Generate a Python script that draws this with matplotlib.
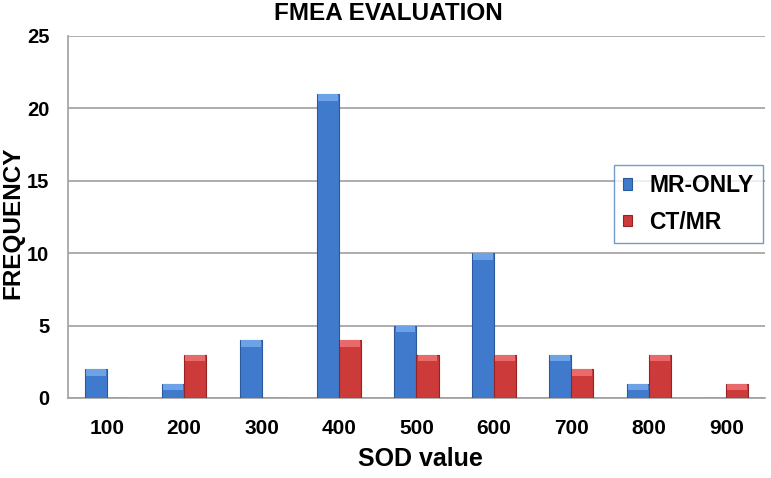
import matplotlib
matplotlib.use("Agg")
import matplotlib.pyplot as plt
import numpy as np

plt.rcParams["font.family"] = ["Liberation Sans", "DejaVu Sans"]
plt.rcParams["font.weight"] = "bold"

# data
sod_values = ["100", "200", "300", "400", "500", "600", "700", "800", "900"]
mr_only = [2, 1, 4, 21, 5, 10, 3, 1, 0]
ct_mr = [0, 3, 0, 4, 3, 3, 2, 3, 1]

BLUE = "#3f7acc"
BLUE_EDGE = "#2a5a9c"
BLUE_TOP = "#6ea2e6"
RED = "#cc3a3a"
RED_EDGE = "#962424"
RED_TOP = "#e86a6a"

fig = plt.figure(figsize=(7.71, 4.78), dpi=100)
ax = fig.add_axes([0.0882, 0.1674, 0.9040, 0.7573])

x = np.arange(len(sod_values))
w = 0.285


def draw_series(offset, vals, col, edge, top, label):
    vals = np.asarray(vals, dtype=float)
    ax.bar(x + offset, vals, w, color=col, edgecolor=edge, linewidth=0.8,
           label=label, zorder=3)
    # light bevel on the top of each bar
    cap = np.where(vals > 0, 0.45, 0)
    ax.bar(x + offset, cap, w * 0.9, bottom=vals - cap - 0.02, color=top,
           edgecolor="none", zorder=4)


draw_series(-w / 2, mr_only, BLUE, BLUE_EDGE, BLUE_TOP, "MR-ONLY")
draw_series(w / 2, ct_mr, RED, RED_EDGE, RED_TOP, "CT/MR")

ax.set_xlim(-0.5, len(sod_values) - 0.5)
ax.set_ylim(0, 25)
ax.set_yticks(range(0, 26, 5))
ax.set_xticks(x)
ax.set_xticklabels(sod_values)
ax.grid(axis="y", color="#a0a0a0", linewidth=1.2, zorder=0)
for side in ["top", "right"]:
    ax.spines[side].set_visible(False)
ax.spines["left"].set_color("#a0a0a0")
ax.spines["bottom"].set_color("#a0a0a0")
ax.spines["left"].set_linewidth(1.2)
ax.spines["bottom"].set_linewidth(1.2)
ax.tick_params(axis="x", length=0, labelsize=15, pad=15)
ax.tick_params(axis="y", length=0, labelsize=14.5, pad=13.5)
for lab in ax.get_xticklabels() + ax.get_yticklabels():
    lab.set_fontweight("bold")

ax.set_xlabel("SOD value", fontsize=18, fontweight="bold", va="center")
ax.xaxis.set_label_coords(0.505, -0.168)
ax.set_ylabel("FREQUENCY", fontsize=17.5, fontweight="bold", va="center")
ax.yaxis.set_label_coords(-0.079, 0.483)
fig.text(0.504, 0.972, "FMEA EVALUATION", ha="center", va="center",
         fontsize=17.5, fontweight="bold")

handles, labels = ax.get_legend_handles_labels()
leg = fig.legend(handles, labels, loc="upper left",
                 bbox_to_anchor=(0.796, 0.655), frameon=True, fancybox=False,
                 prop={"size": 16.5, "weight": "bold"}, handlelength=0.4,
                 handleheight=0.4, handletextpad=0.75, labelspacing=0.6,
                 borderpad=0.4, borderaxespad=0)
leg.get_frame().set_edgecolor("#4f81bd")
leg.get_frame().set_linewidth(1.0)

fig.savefig("out.png", dpi=100)
